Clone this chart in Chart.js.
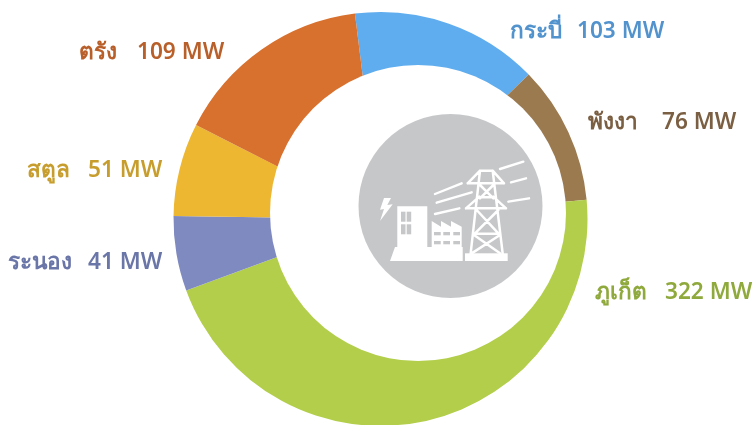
<!DOCTYPE html>
<html lang="th"><head><meta charset="utf-8">
<style>html,body{margin:0;padding:0;background:#fff;overflow:hidden;width:753px;height:425px}canvas{display:block}</style>
<script src="https://cdn.jsdelivr.net/npm/chart.js@4"></script></head>
<body><canvas id="c" width="753" height="440"></canvas>
<script>
const categories = ['กระบี่','พังงา','ภูเก็ต','ระนอง','สตูล','ตรัง'];
const capacityMW = [103,76,322,41,51,109];
const sliceColors = ['#5FADEE','#9C7A50','#B2CE4A','#7F8AC1','#EDB731','#D8702E'];
const textColors = ['#5293CD','#7B5F43','#8FA93C','#6A75A8','#C79E2E','#B85F2A'];
const FONT = '600 22.6px "Noto Sans","Open Sans",sans-serif';
const labelSpots = [
  {nameX:510,valueX:577,y:38},
  {nameX:588,valueX:662,y:129},
  {nameX:595,valueX:665,y:299},
  {nameX:8,valueX:88,y:269},
  {nameX:27,valueX:88,y:177},
  {nameX:79,valueX:137,y:59}
];
function poly(ctx,pts){ctx.beginPath();pts.forEach((p,i)=>i?ctx.lineTo(p[0],p[1]):ctx.moveTo(p[0],p[1]));ctx.closePath();ctx.fill();}
function seg(ctx,list){ctx.beginPath();list.forEach(l=>{ctx.moveTo(l[0],l[1]);ctx.lineTo(l[2],l[3]);});ctx.stroke();}
const overlay = {
  id:'overlay',
  afterDraw(chart){
    const ctx=chart.ctx; ctx.save();
    ctx.fillStyle='#fff'; ctx.beginPath(); ctx.arc(418,213,148,0,Math.PI*2); ctx.fill();
    ctx.fillStyle='#C6C7C9'; ctx.beginPath(); ctx.arc(450.5,206,92,0,Math.PI*2); ctx.fill();
    const grey='#C6C7C9';
    ctx.fillStyle='#fff'; ctx.strokeStyle='#fff';
    poly(ctx,[[384,198],[391,198],[387.3,205],[392.7,204.3],[380,221],[384,209],[380,209.7]]);
    poly(ctx,[[397.3,206.3],[427.3,206.3],[427.3,247],[462.7,247],[462.7,261],[390,261],[395,247],[397.3,247]]);
    poly(ctx,[[431.7,221],[441,226.7],[441,221],[451,226.7],[451,221],[461.7,226.7],[461.7,250],[431.7,250]]);
    ctx.fillStyle=grey;
    [401,406.7].forEach(x=>[211.7,224.3].forEach(y=>ctx.fillRect(x,y,4.5,10)));
    [434,443.3,453.3].forEach(x=>[232,241].forEach(y=>ctx.fillRect(x,y,6.7,3.3)));
    ctx.fillStyle='#fff';
    ctx.fillRect(465,253.3,42.7,7.7);
    const T=(x,y)=>[430+x/3,155+y/3];
    const L=a=>{const p=T(a[0],a[1]),q=T(a[2],a[3]);return [p[0],p[1],q[0],q[1]];};
    ctx.lineWidth=2.5; ctx.lineCap='round'; ctx.lineJoin='round';
    seg(ctx,[[150,47,188,47],[150,47,113,85],[188,47,222,85],[113,85,222,85],
             [148,125,108,160],[190,125,228,160],[108,160,228,160],
             [150,47,122,295],[188,47,218,295],
             [150,90,190,130],[190,90,150,130],[143,127,195,127],
             [140,165,205,235],[205,165,135,235],[132,236,210,236],
             [132,240,210,295],[210,240,125,295]].map(L));
    ctx.lineWidth=2.4;
    seg(ctx,[[450,192,520,170],[483,232,528,220],[475,290,537,280],[255,267,335,235],[260,293,365,262],[255,327,328,310]]
      .map(a=>[350+a[0]/3,105+a[1]/3,350+a[2]/3,105+a[3]/3]));
    ctx.font=FONT; ctx.textBaseline='alphabetic'; ctx.textAlign='left';
    categories.forEach((n,i)=>{
      const s=labelSpots[i]; ctx.fillStyle=textColors[i];
      ctx.fillText(n,s.nameX,s.y);
      ctx.fillText(capacityMW[i]+' MW',s.valueX,s.y);
    });
    ctx.restore();
  }
};
new Chart(document.getElementById('c'),{
  type:'pie',
  data:{labels:categories,datasets:[{data:capacityMW,backgroundColor:sliceColors,borderWidth:0}]},
  options:{responsive:false,animation:false,rotation:-7.1,
    layout:{padding:{left:8,right:0,top:12,bottom:14}},
    plugins:{legend:{display:false},tooltip:{enabled:false}}},
  plugins:[overlay]
});
</script></body></html>
